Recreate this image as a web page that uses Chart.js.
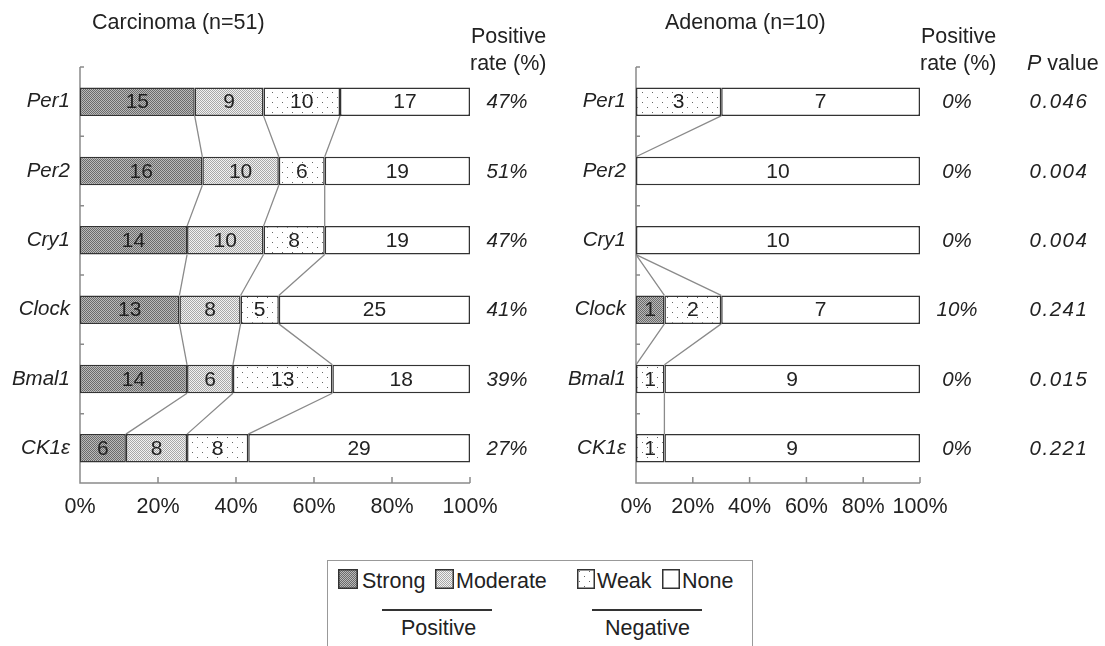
<!DOCTYPE html>
<html>
<head>
<meta charset="utf-8">
<script src="https://cdn.jsdelivr.net/npm/chart.js@4.4.1/dist/chart.umd.min.js"></script>
<style>
body { margin: 0; background: #fff; font-family: "Liberation Sans", Arial, sans-serif; color: #222; }
#page { position: relative; width: 1105px; height: 646px; overflow: hidden; background: #fff; }
#carc, #aden { position: absolute; top: 0; }
.t { position: absolute; font-size: 21.5px; line-height: 24px; white-space: nowrap; }
.sw { position: absolute; top: 569px; }
#legend { position: absolute; left: 327px; top: 560px; width: 424px; height: 100px;
  border: 1.5px solid #999; border-bottom: none; }
.rule { position: absolute; top: 609px; height: 2px; background: #333; }
</style>
</head>
<body>
<div id="page">
  <canvas id="carc" width="560" height="540" style="left:0"></canvas>
  <canvas id="aden" width="545" height="540" style="left:560px"></canvas>

  <div class="t" style="left:92px;top:10px">Carcinoma (n=51)</div>
  <div class="t" style="left:665px;top:10px">Adenoma (n=10)</div>
  <div class="t" style="left:471px;top:24px">Positive</div>
  <div class="t" style="left:470px;top:51px">rate (%)</div>
  <div class="t" style="left:921px;top:24px">Positive</div>
  <div class="t" style="left:920px;top:51px">rate (%)</div>
  <div class="t" style="left:1027px;top:51px"><i>P</i> value</div>

  <div id="legend"></div>
  <canvas class="sw" id="sw0" width="20" height="20" style="left:338px"></canvas>
  <div class="t" style="left:362px;top:569px">Strong</div>
  <canvas class="sw" id="sw1" width="19" height="20" style="left:435px"></canvas>
  <div class="t" style="left:456px;top:569px">Moderate</div>
  <canvas class="sw" id="sw2" width="18" height="20" style="left:577px"></canvas>
  <div class="t" style="left:597px;top:569px">Weak</div>
  <canvas class="sw" id="sw3" width="18" height="20" style="left:662px"></canvas>
  <div class="t" style="left:682px;top:569px">None</div>
  <div class="rule" style="left:382px;width:110px"></div>
  <div class="rule" style="left:592px;width:110px"></div>
  <div class="t" style="left:401px;top:616px">Positive</div>
  <div class="t" style="left:605px;top:616px">Negative</div>
</div>

<script>
// data
const genes = ['Per1', 'Per2', 'Cry1', 'Clock', 'Bmal1', 'CK1ε'];
const levels = ['Strong', 'Moderate', 'Weak', 'None'];
const carcN = 51;
const carcStrong = [15, 16, 14, 13, 14, 6];
const carcModerate = [9, 10, 10, 8, 6, 8];
const carcWeak = [10, 6, 8, 5, 13, 8];
const carcNone = [17, 19, 19, 25, 18, 29];
const adenN = 10;
const adenStrong = [0, 0, 0, 1, 0, 0];
const adenModerate = [0, 0, 0, 0, 0, 0];
const adenWeak = [3, 0, 0, 2, 1, 1];
const adenNone = [7, 10, 10, 7, 9, 9];
const carcRate = ['47%', '51%', '47%', '41%', '39%', '27%'];
const adenRate = ['0%', '0%', '0%', '10%', '0%', '0%'];
const pValues = ['0.046', '0.004', '0.004', '0.241', '0.015', '0.221'];
const xTicks = [0, 20, 40, 60, 80, 100];

const FONT = '"Liberation Sans", Arial, sans-serif';

function makePattern(kind) {
  var c = document.createElement('canvas');
  var g = c.getContext('2d');
  if (kind === 0) {
    c.width = 2; c.height = 2;
    g.fillStyle = '#bababa'; g.fillRect(0, 0, 2, 2);
    g.fillStyle = '#6a6a6a'; g.fillRect(0, 0, 1, 1); g.fillRect(1, 1, 1, 1);
  } else if (kind === 1) {
    c.width = 2; c.height = 2;
    g.fillStyle = '#f2f2f2'; g.fillRect(0, 0, 2, 2);
    g.fillStyle = '#a8a8a8'; g.fillRect(0, 0, 1, 1); g.fillRect(1, 1, 1, 1);
  } else if (kind === 2) {
    c.width = 10; c.height = 10;
    g.fillStyle = '#ffffff'; g.fillRect(0, 0, 10, 10);
    g.fillStyle = '#666666'; g.fillRect(2, 2, 1, 1); g.fillRect(7, 7, 1, 1);
  } else {
    return '#ffffff';
  }
  return g.createPattern(c, 'repeat');
}
const fills = [0, 1, 2, 3].map(makePattern);

// legend swatches
[0, 1, 2, 3].forEach(function (k) {
  var c = document.getElementById('sw' + k);
  var g = c.getContext('2d');
  g.fillStyle = fills[k];
  g.fillRect(0, 0, c.width, c.height);
  g.strokeStyle = '#333';
  g.lineWidth = 1.5;
  g.strokeRect(0.75, 0.75, c.width - 1.5, c.height - 1.5);
});

const decor = {
  id: 'decor',
  beforeDatasetsDraw(chart) {
    const { ctx, chartArea: a, scales: { x, y } } = chart;
    const o = chart.options.plugins.decor;
    ctx.save();
    ctx.strokeStyle = '#8a8a8a';
    ctx.lineWidth = 1.5;
    ctx.beginPath();
    ctx.moveTo(a.left, a.top);
    ctx.lineTo(a.left, a.bottom);
    ctx.lineTo(a.right, a.bottom);
    xTicks.forEach(function (v) {
      const px = x.getPixelForValue(v);
      ctx.moveTo(px, a.bottom);
      ctx.lineTo(px, a.bottom - 6);
    });
    for (let i = 0; i <= genes.length; i++) {
      const py = y.getPixelForValue(i - 0.5);
      ctx.moveTo(a.left, py);
      ctx.lineTo(a.left + 4, py);
    }
    ctx.stroke();

    // connector lines between neighbouring bars
    const bars = chart.getDatasetMeta(0).data;
    ctx.strokeStyle = '#8a8a8a';
    ctx.lineWidth = 1.3;
    ctx.beginPath();
    for (let i = 0; i < genes.length - 1; i++) {
      const b1 = bars[i].getProps(['y', 'height'], true);
      const b2 = bars[i + 1].getProps(['y', 'height'], true);
      let c1 = 0, c2 = 0;
      for (let k = 0; k < 3; k++) {
        c1 += o.series[k][i];
        c2 += o.series[k][i + 1];
        ctx.moveTo(x.getPixelForValue(c1 / o.n * 100), b1.y + b1.height / 2);
        ctx.lineTo(x.getPixelForValue(c2 / o.n * 100), b2.y - b2.height / 2);
      }
    }
    ctx.stroke();
    ctx.restore();
  },
  afterDatasetsDraw(chart) {
    const { ctx, scales: { y } } = chart;
    const o = chart.options.plugins.decor;
    ctx.save();
    ctx.fillStyle = '#222';
    ctx.textAlign = 'center';
    ctx.textBaseline = 'middle';
    ctx.font = '21px ' + FONT;
    chart.data.datasets.forEach(function (ds, k) {
      chart.getDatasetMeta(k).data.forEach(function (el, i) {
        if (!o.series[k][i]) return;
        const p = el.getCenterPoint();
        ctx.fillText(String(o.series[k][i]), p.x, p.y + 1);
      });
    });
    ctx.font = 'italic 20.5px ' + FONT;
    o.columns.forEach(function (col) {
      ctx.letterSpacing = col.spacing || '0px';
      col.values.forEach(function (t, i) {
        ctx.fillText(t, col.x, y.getPixelForValue(i) + 1);
      });
    });
    ctx.restore();
  }
};

function buildChart(id, n, series, columns, axisW, padRight) {
  const ctx = document.getElementById(id).getContext('2d');
  return new Chart(ctx, {
    type: 'bar',
    data: {
      labels: genes,
      datasets: series.map(function (vals, k) {
        return {
          label: levels[k],
          data: vals.map(function (v) { return v / n * 100; }),
          backgroundColor: fills[k],
          borderColor: '#333',
          borderWidth: 1.5,
          borderSkipped: false,
          barPercentage: 0.41,
          categoryPercentage: 1,
        };
      }),
    },
    options: {
      indexAxis: 'y',
      responsive: false,
      animation: false,
      events: [],
      layout: { padding: { left: 0, top: 67, right: padRight, bottom: 17 } },
      scales: {
        x: {
          stacked: true,
          min: 0,
          max: 100,
          grid: { display: false },
          border: { display: false },
          afterFit: function (s) { s.height = 40; },
          ticks: {
            stepSize: 20,
            padding: 3,
            maxRotation: 0,
            minRotation: 0,
            autoSkip: false,
            color: '#222',
            font: { family: FONT, size: 21.5 },
            callback: function (v) { return v + '%'; },
          },
        },
        y: {
          stacked: true,
          grid: { display: false },
          border: { display: false },
          afterFit: function (s) { s.width = axisW; },
          ticks: {
            padding: 2,
            color: '#222',
            font: { family: FONT, size: 20.5, style: 'italic' },
          },
        },
      },
      plugins: {
        legend: { display: false },
        tooltip: { enabled: false },
        decor: { n: n, series: series, columns: columns },
      },
    },
    plugins: [decor],
  });
}

buildChart('carc', carcN, [carcStrong, carcModerate, carcWeak, carcNone],
  [{ x: 507, values: carcRate }], 80, 90);
buildChart('aden', adenN, [adenStrong, adenModerate, adenWeak, adenNone],
  [{ x: 397, values: adenRate }, { x: 499, values: pValues, spacing: '1.5px' }], 76, 185);
</script>
</body>
</html>
